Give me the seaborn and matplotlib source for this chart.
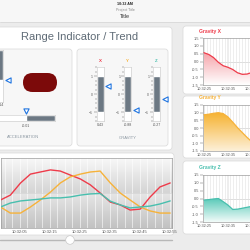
import matplotlib
matplotlib.use('Agg')
import matplotlib.pyplot as plt
import numpy as np
import pandas as pd
import seaborn as sns
from matplotlib.colors import LinearSegmentedColormap
from matplotlib.patches import FancyBboxPatch, Rectangle, Circle
from matplotlib.ticker import FixedLocator, FuncFormatter, MultipleLocator

sns.set_theme(style='white')
plt.rcParams['font.family'] = ['Liberation Sans', 'DejaVu Sans']

# --- data ---
trend_secs = [-1.5, 1.8, 5.2, 8.5, 11.8, 15.2, 18.5, 21.8, 25.2,
              28.5, 31.8, 35.2, 38.5, 41.8, 45.2, 48.5, 51.8, 55.2]
trend_x = [-0.30, -0.09, 0.43, 0.81, 0.90, 0.99, 0.94, 0.77, 0.60,
           0.35, 0.00, -0.39, -0.51, -0.73, -0.69, -0.17, 0.26, 0.43]
trend_y = [-0.60, -0.86, -0.86, -0.60, -0.30, 0.04, 0.43, 0.69, 0.81,
           0.90, 0.94, 0.43, 0.00, -0.30, -0.60, -0.77, -0.86, -0.86]
trend_z = [-0.60, -0.43, -0.34, -0.30, -0.26, -0.21, -0.21, -0.17, -0.09,
           -0.04, -0.02, -0.35, -0.51, -0.64, -0.60, -0.56, -0.47, -0.34]

panel_secs = [25, 27, 29, 31, 33, 35, 37, 39, 41, 43, 45]
panel_x = [0.56, 0.45, 0.25, -0.05, -0.27, -0.37, -0.51, -0.72, -0.82, -0.80, -0.70]
panel_y = [0.86, 0.90, 0.96, 1.00, 0.94, 0.72, 0.38, 0.02, -0.30, -0.62, -0.90]
panel_z = [-0.10, -0.07, -0.03, 0.00, -0.20, -0.42, -0.70, -0.68, -0.62, -0.56, -0.50]

gravity_names = ['X', 'Y', 'Z']
gravity_values = [0.43, -0.88, -0.27]
accel_vertical = -0.14
accel_horizontal = -0.01

RED, ORANGE, TEAL = '#ee3b4a', '#f6b23a', '#48bfae'
SLATE, BLUE = '#6c7883', '#1f74e0'
W = 250

fig = plt.figure(figsize=(2.5, 2.5), dpi=100)
fig.patch.set_facecolor('#ececec')


def box(x0, y0, x1, y1):
    return [x0 / W, 1 - y1 / W, (x1 - x0) / W, (y1 - y0) / W]


bg = fig.add_axes([0, 0, 1, 1])
bg.set_xlim(0, W)
bg.set_ylim(W, 0)
bg.axis('off')


def panel(x0, y0, x1, y1, fc='white', ec='#d9d9d9', r=3):
    bg.add_patch(FancyBboxPatch((x0, y0), x1 - x0, y1 - y0,
                                boxstyle=f'round,pad=0,rounding_size={r}',
                                fc=fc, ec=ec, lw=0.5))


def label(x, y, s, size=3, color='#555555', **kw):
    bg.text(x, y, s, fontsize=size, color=color, ha='center', va='center', **kw)


# header
bg.add_patch(Rectangle((0, 0), W, 22, fc='#f7f7f7', ec='none'))
bg.plot([0, W], [22, 22], color='#d5d5d5', lw=0.5)
label(125, 4, '10:32 AM', 2.6, '#222222', weight='bold')
label(125, 10, 'Project Title', 2.6, '#888888')
label(125, 16, 'Title', 4, '#333333')

# panels
panel(-5, 27, 172, 150)
panel(-5, 49, 72, 146, fc='#f7f7f7')
panel(77, 49, 168, 146, fc='#f7f7f7')
panel(183, 26, 262, 94)
panel(183, 96, 262, 158)
panel(183, 161, 262, 234)
panel(-5, 153, 174, 235)

label(80, 37, 'Range Indicator / Trend', 8, '#5f6b76')

# acceleration
bg.add_patch(FancyBboxPatch((23, 73), 34, 19, boxstyle='round,pad=0,rounding_size=9.5',
                            fc='#7c0a0a', ec='none'))
label(23, 137, 'ACCELERATION', 3, '#8a96a0')

av = fig.add_axes(box(-4, 50, 3, 102))
av.bar(0.5, 1 - accel_vertical, bottom=accel_vertical, width=1, color=SLATE)
av.scatter(1.7, accel_vertical, marker='<', s=14, fc='white', ec=BLUE, lw=0.8, clip_on=False, zorder=5)
av.set_xlim(0, 1)
av.set_ylim(-1, 1)
av.set_xticks([])
av.set_yticks([])
label(0, 105, f'{accel_vertical:.2f}', 2.6)

ah = fig.add_axes(box(-3, 115, 55, 121))
ah.barh(0.5, 1 - accel_horizontal, left=accel_horizontal, height=1, color=SLATE)
ah.scatter(accel_horizontal, 1.7, marker='v', s=14, fc='white', ec=BLUE, lw=0.8, clip_on=False, zorder=5)
ah.set_xlim(-1, 1)
ah.set_ylim(0, 1)
ah.set_xticks([])
ah.set_yticks([])
label(26, 126, f'{accel_horizontal:.2f}', 2.6)

for a in (av, ah):
    a.set_facecolor('white')
    for s in a.spines.values():
        s.set_color('#c8c8c8')
        s.set_linewidth(0.4)

# gravity indicators
for name, val, color, cx in zip(gravity_names, gravity_values, [RED, ORANGE, TEAL], [100, 127.5, 156.5]):
    ax = fig.add_axes(box(cx - 3.5, 67, cx + 3.5, 121))
    ax.bar(0.5, 2, bottom=-1, width=1, color=SLATE)
    ax.scatter(1.7, val, marker='<', s=14, fc='white', ec=BLUE, lw=0.8, clip_on=False, zorder=5)
    ax.set_xlim(0, 1)
    ax.set_ylim(-1.5, 1.5)
    ax.set_xticks([])
    ax.set_yticks([-1, 0, 1])
    ax.yaxis.set_minor_locator(MultipleLocator(0.25))
    ax.tick_params(axis='y', which='both', left=True, labelsize=2.4, length=2, width=0.3,
                   pad=0.8, colors='#555555')
    ax.tick_params(axis='y', which='minor', length=1.2)
    ax.set_facecolor('white')
    for s in ax.spines.values():
        s.set_color('#c8c8c8')
        s.set_linewidth(0.4)
    label(cx, 61, name, 3.2, color, weight='bold')
    label(cx, 125, f'{val:.2f}', 2.6)
label(128, 138, 'GRAVITY', 3, '#8a96a0')

# main trend chart
df = pd.DataFrame({'sec': trend_secs * 3,
                   'value': trend_x + trend_y + trend_z,
                   'axis': ['X'] * len(trend_secs) + ['Y'] * len(trend_secs) + ['Z'] * len(trend_secs)})
main = fig.add_axes(box(0.5, 158, 172, 228))
half = np.linspace(0, 1, 128)
lower = np.interp(half, [0, 1], [0.76, 0.90])
upper = np.interp(half, [0, 1], [0.83, 0.97])
shade = np.concatenate([lower, upper]).reshape(-1, 1)
main.imshow(shade, cmap='gray', vmin=0, vmax=1, extent=[-1.5, 55.8, -1.5, 1.5],
            origin='lower', aspect='auto', zorder=0)
sns.lineplot(data=df, x='sec', y='value', hue='axis', palette=[RED, ORANGE, TEAL],
             lw=1.0, legend=False, ax=main, zorder=3)
main.set_xlim(-1.5, 55.8)
main.set_ylim(-1.5, 1.5)
main.xaxis.set_major_locator(FixedLocator([5, 15, 25, 35, 45, 55]))
main.xaxis.set_major_formatter(FuncFormatter(lambda v, p: f'10:32:{int(v):02d}'))
main.xaxis.set_minor_locator(MultipleLocator(2.5))
main.grid(which='both', axis='x', color='white', lw=0.5, alpha=0.8)
main.axhline(0, color='#d0d0d0', lw=0.4, zorder=1)
main.set_yticks([])
main.set_xlabel('')
main.set_ylabel('')
main.tick_params(axis='x', labelsize=3, length=0, pad=1.5, colors='#555555')
for s in main.spines.values():
    s.set_color('#9c9c9c')
    s.set_linewidth(0.5)

# slider
bg.plot([0, 172], [239.5, 239.5], color='#b8b8b8', lw=1)
bg.add_patch(Circle((70, 240), 4.3, fc='white', ec='#c9c9c9', lw=0.5, zorder=4))


# right hand panels
def grad_fill(ax, x, y, c_top, c_bot):
    poly = ax.fill_between(x, y, -1.5, color='none', lw=0)
    cmap = LinearSegmentedColormap.from_list('g', [c_bot, c_top])
    im = ax.imshow(np.linspace(0, 1, 100).reshape(-1, 1), cmap=cmap,
                   extent=[x[0], x[-1], -1.5, max(y)], origin='lower', aspect='auto', zorder=1)
    im.set_clip_path(poly.get_paths()[0], transform=ax.transData)


for title, vals, color, c_top, c_bot, (y0, y1) in [
        ('Gravity X', panel_x, RED, '#f5a3a9', '#ffffff', (38, 85)),
        ('Gravity Y', panel_y, ORANGE, '#f6b230', '#fdf0d8', (105, 151)),
        ('Gravity Z', panel_z, TEAL, '#58c9b8', '#f2fbf9', (175, 222))]:
    ax = fig.add_axes(box(203, y0, 262, y1))
    grad_fill(ax, panel_secs, vals, c_top, c_bot)
    sns.lineplot(x=panel_secs, y=vals, color=color, lw=0.9, ax=ax, zorder=3)
    ax.set_xlim(24.6, 49.2)
    ax.set_ylim(-1.5, 1.5)
    ax.set_facecolor('white')
    ax.set_yticks([1.5, 1.0, 0.5, 0.0, -0.5, -1.0, -1.5])
    ax.yaxis.set_major_formatter(FuncFormatter(lambda v, p: f'{v:.1f}'))
    ax.xaxis.set_major_locator(FixedLocator([25, 35, 45]))
    ax.xaxis.set_major_formatter(FuncFormatter(lambda v, p: f'10:32:{int(v):02d}'))
    ax.xaxis.set_minor_locator(MultipleLocator(1.2))
    ax.grid(which='both', axis='x', color='#e2e2e2', lw=0.4)
    ax.axhline(0, color='#c4c4c4', lw=0.4, zorder=0.5)
    ax.tick_params(axis='y', left=True, labelsize=2.8, length=2, width=0.3, pad=1, colors='#555555')
    ax.tick_params(axis='x', labelsize=2.8, length=0, pad=1.2, colors='#555555')
    for s in ax.spines.values():
        s.set_color('#9c9c9c')
        s.set_linewidth(0.5)
    label(210, y0 - 7, title, 3.6, color, weight='bold')

fig.savefig('out.png', dpi=100, facecolor=fig.get_facecolor())
